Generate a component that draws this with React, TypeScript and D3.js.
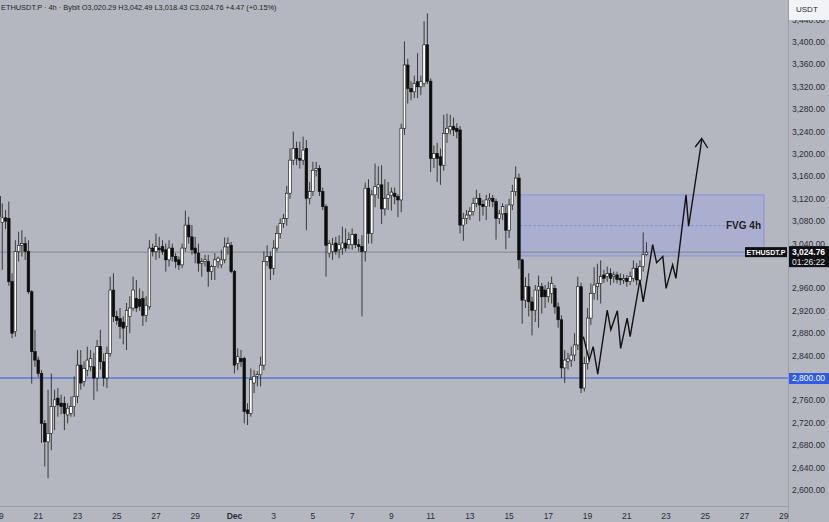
import React from "react";
import * as d3 from "d3";

const W = 829;
const H = 522;
const PLOT_RIGHT = 788;
const PLOT_BOTTOM = 506;
const START = Date.UTC(2024, 10, 19, 0, 0, 0);
const HOUR = 3600 * 1000;

// 4h candles, first one 2024-11-19 00:00
const opens = [3124,3078,3086,3085,2972,2883,3026,3037,3040,3026,2954,2847,2832,2808,2719,2686,2701,2749,2764,2755,2755,2734,2737,2749,2767,2823,2794,2814,2820,2820,2800,2856,2829,2800,2844,2957,2910,2906,2900,2892,2910,2925,2942,2940,2942,2912,2927,3032,3026,3032,3035,3029,3011,3032,3017,3011,3002,3032,3073,3052,3032,3023,3005,3008,3008,2990,2999,3008,3002,3011,3034,3037,2990,2826,2835,2835,2743,2737,2791,2803,2806,2823,3008,3017,2996,3032,3058,3076,3085,3130,3189,3210,3192,3189,3210,3121,3133,3171,3174,3133,3106,3023,3026,3041,3029,3032,3041,3038,3038,3056,3038,3035,3026,3139,3058,3127,3140,3145,3102,3121,3126,3130,3124,3118,3246,3359,3317,3311,3329,3320,3326,3395,3330,3192,3201,3195,3180,3237,3243,3249,3246,3243,3073,3085,3091,3097,3112,3121,3110,3106,3118,3121,3115,3085,3093,3094,3064,3109,3133,3157,3011,2939,2963,2936,2921,2957,2963,2957,2945,2951,2960,2927,2904,2818,2830,2832,2841,2859,2963,2782,2826,2907,2951,2963,2969,2984,2981,2987,2981,2984,2978,2975,2978,2972,2978,2996,2975,2999,3020.29];
const highs = [3138,3112,3100,3115,2987,3046,3061,3064,3052,3046,2957,2886,2838,2814,2725,2779,2808,2779,2782,2770,2767,2755,2767,2803,2850,2850,2830,2856,2850,2845,2868,2886,2844,2856,2981,2987,2920,2925,2910,2934,2946,2981,2975,2960,2955,2946,3046,3040,3058,3052,3046,3040,3046,3040,3023,3017,3040,3099,3088,3073,3052,3040,3014,3020,3020,3002,3023,3017,3029,3051,3051,3043,2993,2853,2850,2838,2755,2817,2814,2812,2838,3026,3037,3026,3046,3072,3085,3093,3143,3210,3240,3222,3222,3231,3225,3150,3186,3186,3180,3140,3110,3046,3050,3052,3055,3070,3067,3060,3067,3058,3048,3055,3149,3155,3136,3183,3178,3180,3155,3150,3140,3140,3128,3254,3401,3370,3330,3340,3380,3340,3437,3451,3335,3215,3220,3210,3270,3272,3270,3265,3255,3250,3095,3100,3105,3122,3136,3130,3118,3127,3130,3127,3120,3100,3112,3110,3120,3145,3178,3165,3013,2980,2987,2945,2966,2983,2970,2966,2972,2981,2966,2935,2912,2850,2845,2856,2880,2981,2970,2838,2925,2969,2998,3004,3010,2993,2999,2996,2990,2990,2987,2985,2984,2990,3010,3005,3010,3060,3042.49];
const lows = [3070,2993,3066,2965,2871,2874,3008,3017,3011,2950,2790,2820,2802,2684,2642,2621,2671,2707,2731,2735,2707,2719,2731,2731,2755,2779,2785,2803,2812,2761,2776,2815,2785,2782,2838,2900,2895,2870,2860,2850,2880,2920,2918,2920,2893,2900,2922,3017,3011,3014,3020,2990,2999,3008,2996,2993,2996,3026,3040,3020,3005,2990,2981,2999,2963,2975,2975,2996,2996,3005,3020,2987,2808,2814,2820,2719,2716,2731,2773,2785,2785,2814,3000,2975,2984,3026,3049,3068,3072,3120,3180,3180,3174,3180,3064,3110,3125,3160,3125,3100,2981,3015,3011,3020,3014,3020,3026,3030,3029,3032,3026,2910,3008,3040,3040,3105,3120,3075,3090,3100,3099,3110,3087,3096,3234,3290,3296,3300,3300,3305,3320,3325,3168,3175,3150,3145,3170,3220,3235,3232,3228,3058,3045,3075,3082,3090,3105,3080,3090,3082,3106,3105,3047,3075,3082,3030,3050,3100,3125,2995,2897,2925,2910,2876,2900,2890,2915,2925,2935,2933,2915,2890,2800,2791,2815,2820,2830,2850,2773,2776,2815,2895,2940,2939,2933,2970,2972,2966,2970,2969,2966,2968,2963,2966,2972,2966,2966,2990,3018.43];
const closes = [3088,3086,3080,2972,2880,3026,3037,3040,3026,2954,2847,2832,2808,2719,2686,2701,2749,2761,2752,2749,2737,2746,2749,2767,2823,2791,2817,2832,2835,2800,2856,2829,2800,2844,2957,2910,2903,2892,2889,2921,2925,2957,2925,2928,2912,2930,3032,3026,3035,3029,3026,3011,3032,3017,3008,3002,3032,3073,3052,3029,3023,3005,3008,3011,2990,2999,3011,3014,3011,3034,3040,2990,2823,2838,2829,2740,2737,2797,2803,2806,2823,3008,3017,2996,3032,3058,3076,3085,3130,3189,3210,3192,3189,3207,3121,3133,3171,3174,3133,3106,3037,3040,3038,3026,3038,3041,3032,3047,3056,3038,3035,3026,3139,3058,3127,3142,3145,3102,3121,3127,3132,3124,3118,3246,3359,3317,3311,3326,3320,3329,3395,3330,3192,3201,3192,3180,3237,3246,3249,3243,3240,3073,3085,3091,3097,3112,3121,3109,3106,3118,3121,3115,3085,3093,3106,3064,3109,3133,3157,3011,2939,2963,2936,2921,2957,2963,2945,2945,2960,2969,2927,2904,2818,2832,2834,2841,2859,2963,2782,2826,2907,2951,2966,2969,2981,2978,2987,2978,2984,2976,2975,2978,2972,2981,2996,2975,2999,3020,3024.76];

const priceTicks = [2600,2640,2680,2720,2760,2800,2840,2880,2920,2960,3000,3040,3080,3120,3160,3200,3240,3280,3320,3360,3400,3440];
const timeTickDates = ["2024-11-19","2024-11-21","2024-11-23","2024-11-25","2024-11-27","2024-11-29","2024-12-01","2024-12-03","2024-12-05","2024-12-07","2024-12-09","2024-12-11","2024-12-13","2024-12-15","2024-12-17","2024-12-19","2024-12-21","2024-12-23","2024-12-25","2024-12-27","2024-12-29"];
const timeTickLabels = ["19","21","23","25","27","29","Dec","3","5","7","9","11","13","15","17","19","21","23","25","27","29"];

// projection path (candle index position, price)
const projIdx = [178.7,180.5,181.7,183.1,186.0,187.1,189.1,190.1,192.1,193.0,196.0,197.0,199.9,201.1,203.0,204.0,206.0,207.0,210.1,210.9,214.9];
const projPrice = [2874,2832,2856,2807,2921,2886,2920,2853,2907,2874,2975,2936,3038,3006,3017,2960,3002,2978,3127,3071,3225];

// zones / levels
const fvgStartIdx = 159.3;
const fvgEndIdx = 233.9;
const fvgTop = 3127;
const fvgBottom = 3018;
const fvgMid = 3072;
const supportLevel = 2800;
const lastPrice = 3024.76;

const FONT = "'Liberation Sans', Arial, sans-serif";

export default function App() {
  const x = d3
    .scaleUtc()
    .domain([new Date(Date.UTC(2024, 10, 19)), new Date(Date.UTC(2024, 11, 29))])
    .range([-1, 783.8]);
  const y = d3.scaleLinear().domain([2600, 3400]).range([490, 42]);
  const at = (f: number) => x(new Date(START + f * 4 * HOUR));
  const bw = 2.6;

  const candles = opens.map((o, i) => ({ o, h: highs[i], l: lows[i], c: closes[i], cx: at(i) }));

  const line = d3
    .line<number>()
    .x((d, i) => at(projIdx[i]))
    .y((d) => y(d));
  const projD = line(projPrice) || "";
  const lastX = at(projIdx[projIdx.length - 1]);
  const lastY = y(projPrice[projPrice.length - 1]);
  const arrowD = `M${lastX - 6.5},${lastY + 7} L${lastX},${lastY - 1.5} L${lastX + 6},${lastY + 8}`;

  const fx0 = at(fvgStartIdx);
  const fx1 = at(fvgEndIdx);
  const fy0 = y(fvgTop);
  const fy1 = y(fvgBottom);

  const fmt = d3.format(",.2f");
  const lpY = y(lastPrice);
  const supY = y(supportLevel);
  const boxTop = lpY - 6;
  const boxBot = lpY + 15;
  const visibleTicks = priceTicks.filter((p) => {
    const ty = y(p);
    return !(ty > boxTop + 2 && ty < boxBot + 3) && Math.abs(ty - supY) > 6;
  });

  return (
    <svg
      width={W}
      height={H}
      viewBox={`0 0 ${W} ${H}`}
      style={{ position: "fixed", left: 0, top: 0, display: "block" }}
      fontFamily={FONT}
    >
      <defs>
        <clipPath id="plot">
          <rect x={0} y={0} width={PLOT_RIGHT} height={PLOT_BOTTOM} />
        </clipPath>
      </defs>
      <rect x={0} y={0} width={W} height={H} fill="#b4b7bf" />

      <g clipPath="url(#plot)">
        {/* FVG zone */}
        <rect x={fx0} y={fy0} width={fx1 - fx0} height={fy1 - fy0} fill="rgb(150,160,250)" fillOpacity={0.3} stroke="#8a92d6" strokeWidth={1} />
        <line x1={fx0} x2={725} y1={y(fvgMid)} y2={y(fvgMid)} stroke="#7c84c8" strokeWidth={0.8} strokeDasharray="2.5,2" />

        {/* last price line */}
        <line x1={0} x2={PLOT_RIGHT} y1={lpY} y2={lpY} stroke="#75787f" strokeWidth={0.8} />
        {/* support */}
        <line x1={0} x2={PLOT_RIGHT} y1={supY} y2={supY} stroke="#2f5be8" strokeWidth={1.2} />

        {/* candles */}
        {candles.map((d, i) => {
          const up = d.c >= d.o;
          const top = y(Math.max(d.o, d.c));
          const bot = y(Math.min(d.o, d.c));
          return (
            <g key={i}>
              <line x1={d.cx} x2={d.cx} y1={y(d.h)} y2={y(d.l)} stroke="#1a1a1a" strokeWidth={0.8} />
              <rect
                x={d.cx - bw / 2}
                y={top}
                width={bw}
                height={Math.max(0.8, bot - top)}
                fill={up ? "#ffffff" : "#0d0d0d"}
                stroke="#0d0d0d"
                strokeWidth={0.6}
              />
            </g>
          );
        })}

        {/* projection */}
        <path d={projD} fill="none" stroke="#111" strokeWidth={1.4} strokeLinejoin="miter" />
        <path d={arrowD} fill="none" stroke="#111" strokeWidth={1.4} />

        <text x={761} y={y(fvgMid) + 3.6} textAnchor="end" fontSize={10} fontWeight={700} fill="#1c1d26">
          FVG 4h
        </text>
      </g>

      {/* axes separators */}
      <line x1={PLOT_RIGHT + 0.5} x2={PLOT_RIGHT + 0.5} y1={0} y2={H} stroke="#9c9fa7" strokeWidth={1} />
      <line x1={0} x2={PLOT_RIGHT} y1={PLOT_BOTTOM + 0.5} y2={PLOT_BOTTOM + 0.5} stroke="#9c9fa7" strokeWidth={1} />

      {/* price axis labels */}
      {visibleTicks.map((p) => (
        <text key={p} x={792} y={y(p) + 3} fontSize={8.5} fill="#2a2d36">
          {fmt(p)}
        </text>
      ))}

      {/* time axis labels */}
      {timeTickDates.map((s, i) => (
        <text
          key={s}
          x={x(new Date(s + "T00:00:00Z"))}
          y={519}
          textAnchor="middle"
          fontSize={8.5}
          fontWeight={timeTickLabels[i] === "Dec" ? 700 : 400}
          fill="#2a2d36"
        >
          {timeTickLabels[i]}
        </text>
      ))}

      {/* USDT box */}
      <rect x={789} y={0} width={40} height={20} fill="#f2f3f6" />
      <text x={796} y={12} fontSize={8} fill="#2a2d36">USDT</text>

      {/* support label */}
      <rect x={789} y={supY - 5} width={40} height={11} fill="#2f5be8" />
      <text x={792} y={supY + 3} fontSize={8.5} fill="#ffffff">{fmt(supportLevel)}</text>

      {/* last price labels */}
      <rect x={745} y={lpY - 5} width={42} height={10} fill="#0f1014" />
      <text x={766} y={lpY + 2.6} textAnchor="middle" fontSize={7} fontWeight={700} fill="#ffffff">ETHUSDT.P</text>
      <rect x={789} y={boxTop} width={40} height={boxBot - boxTop} fill="#0f1014" />
      <text x={792} y={lpY + 3} fontSize={8.5} fontWeight={700} fill="#ffffff">{fmt(lastPrice)}</text>
      <text x={792} y={lpY + 12.5} fontSize={8.5} fill="#e8e8e8">01:26:22</text>

      {/* header */}
      <text x={1} y={10} fontSize={7.4} fill="#1d1f26">
        ETHUSDT.P · 4h · Bybit  O3,020.29 H3,042.49 L3,018.43 C3,024.76 +4.47 (+0.15%)
      </text>
    </svg>
  );
}
